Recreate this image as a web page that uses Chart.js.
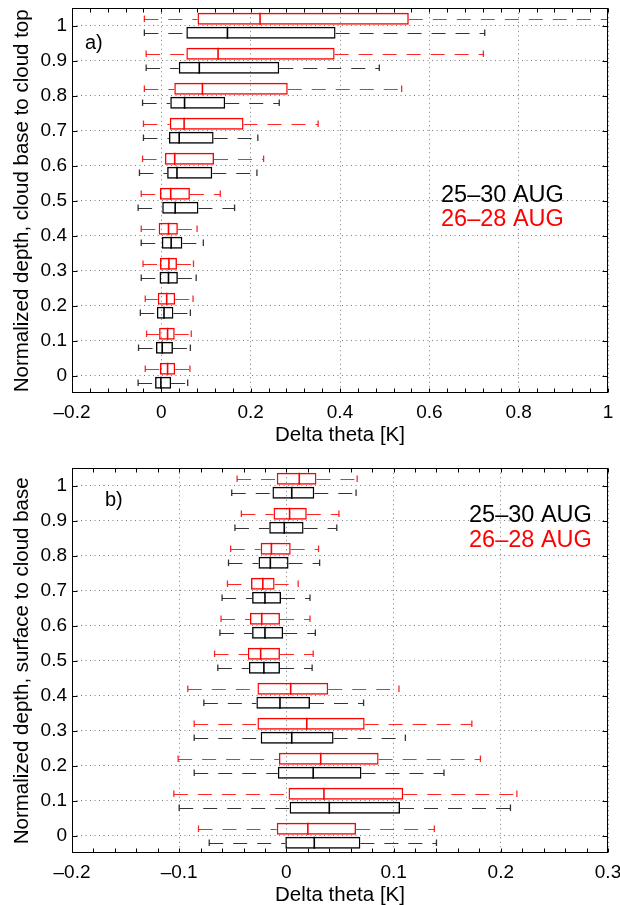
<!DOCTYPE html>
<html><head><meta charset="utf-8">
<script src="https://cdn.jsdelivr.net/npm/chart.js@4.4.1/dist/chart.umd.min.js"></script>
<style>
html,body{margin:0;padding:0;background:#fff;overflow:hidden;width:620px;height:905px}
#wrap{position:relative;width:620px;height:905px;overflow:hidden;background:#fff}
canvas{position:absolute;left:0}
</style></head><body>
<div id="wrap">
<canvas id="ca" width="640" height="455" style="top:0"></canvas>
<canvas id="cb" width="640" height="455" style="top:455px"></canvas>
</div>
<script>
// ---------- data ----------
const levels = [0, 0.1, 0.2, 0.3, 0.4, 0.5, 0.6, 0.7, 0.8, 0.9, 1];
const yTicks = [0, 0.1, 0.2, 0.3, 0.4, 0.5, 0.6, 0.7, 0.8, 0.9, 1];
const xTicksA = [-0.2, 0, 0.2, 0.4, 0.6, 0.8, 1];
const xTicksB = [-0.2, -0.1, 0, 0.1, 0.2, 0.3];
const seriesLabels = ['25\u201330 AUG', '26\u201328 AUG'];

// Panel a) cloud base to cloud top -- 25-30 AUG (black)
const aBlackLo  = [-0.052, -0.051, -0.047, -0.045, -0.045, -0.052, -0.049, -0.040, -0.042, -0.034, -0.038];
const aBlackQ1  = [-0.014, -0.012, -0.010, -0.004,  0.000,  0.002,  0.013,  0.017,  0.020,  0.039,  0.056];
const aBlackMed = [-0.001,  0.002,  0.006,  0.016,  0.022,  0.031,  0.035,  0.040,  0.052,  0.085,  0.148];
const aBlackQ3  = [ 0.022,  0.026,  0.027,  0.037,  0.047,  0.083,  0.114,  0.117,  0.143,  0.264,  0.390];
const aBlackHi  = [ 0.059,  0.065,  0.065,  0.078,  0.094,  0.164,  0.214,  0.216,  0.264,  0.488,  0.724];
// Panel a) -- 26-28 AUG (red)
const aRedLo  = [-0.036, -0.033, -0.036, -0.041, -0.045, -0.045, -0.042, -0.040, -0.038, -0.034, -0.038];
const aRedQ1  = [-0.003, -0.005, -0.008, -0.003, -0.006, -0.003,  0.008,  0.019,  0.029,  0.056,  0.081];
const aRedMed = [ 0.014,  0.014,  0.012,  0.017,  0.016,  0.021,  0.030,  0.051,  0.092,  0.127,  0.221];
const aRedQ3  = [ 0.031,  0.030,  0.031,  0.035,  0.037,  0.064,  0.118,  0.184,  0.283,  0.388,  0.554];
const aRedHi  = [ 0.064,  0.067,  0.071,  0.072,  0.080,  0.132,  0.229,  0.351,  0.538,  0.721,  1.020];

// Panel b) surface to cloud base -- 25-30 AUG (black)
const bBlackLo  = [-0.072, -0.100, -0.086, -0.086, -0.077, -0.064, -0.062, -0.060, -0.054, -0.048, -0.051];
const bBlackQ1  = [-0.001,  0.003, -0.008, -0.024, -0.028, -0.035, -0.032, -0.032, -0.026, -0.016, -0.013];
const bBlackMed = [ 0.026,  0.040,  0.025,  0.005, -0.006, -0.021, -0.020, -0.020, -0.015, -0.002,  0.005];
const bBlackQ3  = [ 0.069,  0.106,  0.070,  0.044,  0.022, -0.006, -0.003, -0.005,  0.002,  0.016,  0.026];
const bBlackHi  = [ 0.140,  0.209,  0.147,  0.111,  0.072,  0.024,  0.027,  0.022,  0.031,  0.047,  0.065];
// Panel b) -- 26-28 AUG (red)
const bRedLo  = [-0.082, -0.105, -0.101, -0.086, -0.092, -0.067, -0.061, -0.055, -0.052, -0.042, -0.046];
const bRedQ1  = [-0.009,  0.002, -0.007, -0.027, -0.027, -0.036, -0.034, -0.033, -0.024, -0.012, -0.009];
const bRedMed = [ 0.020,  0.035,  0.032,  0.019,  0.004, -0.024, -0.023, -0.022, -0.014,  0.003,  0.012];
const bRedQ3  = [ 0.065,  0.109,  0.086,  0.073,  0.039, -0.006, -0.006, -0.011,  0.004,  0.019,  0.028];
const bRedHi  = [ 0.138,  0.215,  0.181,  0.173,  0.105,  0.025,  0.022,  0.011,  0.030,  0.049,  0.066];

// ---------- styling ----------
const FONT = "'Liberation Sans', Arial, Helvetica, sans-serif";
const RED = '#ff0000', BLACK = '#000000';

function fmt(v) {
  return v < 0 ? '\u2013' + String(-v) : String(v);
}

function boxDataset(label, lo, q1, med, q3, hi, color, whiskerColor) {
  return {
    label,
    data: levels.map((l, i) => ({ y: l, x: [q1[i], q3[i]] })),
    lo, med, hi,
    whiskerColor,
    borderColor: color,
    backgroundColor: 'rgba(0,0,0,0)',
    borderWidth: 1.4,
    borderSkipped: false,
    categoryPercentage: 0.8,
    barPercentage: 0.85
  };
}

const boxPlugin = {
  id: 'boxDecor',
  afterDatasetsDraw(chart, args, o) {
    const { ctx, chartArea: ca, scales: { x, y } } = chart;
    ctx.save();
    ctx.beginPath();
    ctx.rect(ca.left, ca.top, ca.right - ca.left, ca.bottom - ca.top);
    ctx.clip();
    const seg = (x1, y1, x2, y2) => { ctx.beginPath(); ctx.moveTo(x1, y1); ctx.lineTo(x2, y2); ctx.stroke(); };
    chart.data.datasets.forEach((ds, di) => {
      const meta = chart.getDatasetMeta(di);
      meta.data.forEach((el, i) => {
        const yc = el.y, h = el.height;
        const yy = Math.round(yc) + 0.5;
        const pLo = x.getPixelForValue(ds.lo[i]);
        const pQ1 = x.getPixelForValue(ds.data[i].x[0]);
        const pQ3 = x.getPixelForValue(ds.data[i].x[1]);
        const pMed = x.getPixelForValue(ds.med[i]);
        const pHi = x.getPixelForValue(ds.hi[i]);
        ctx.lineWidth = 1.1;
        ctx.strokeStyle = ds.whiskerColor;
        ctx.setLineDash([14, 10]);
        seg(pLo, yy, pQ1, yy);
        seg(pQ3, yy, pHi, yy);
        ctx.setLineDash([]);
        ctx.lineWidth = 1.3;
        seg(pLo, yc - h * 0.27, pLo, yc + h * 0.27);
        seg(pHi, yc - h * 0.27, pHi, yc + h * 0.27);
        ctx.strokeStyle = ds.borderColor;
        ctx.lineWidth = 1.6;
        seg(pMed, yc - h / 2, pMed, yc + h / 2);
      });
    });
    ctx.restore();

    // frame
    ctx.save();
    ctx.strokeStyle = '#000';
    ctx.lineWidth = 1;
    const L = Math.round(ca.left) + 0.5, R = Math.round(ca.right) - 0.5;
    const T = Math.round(ca.top) + 0.5, B = Math.round(ca.bottom) - 0.5;
    ctx.strokeRect(L, T, R - L, B - T);
    // inward ticks
    const tl = 5, tm = 4;
    ctx.beginPath();
    for (let v = x.min; v <= x.max + 1e-9; v += o.xMinorStep) {
      const px = Math.round(x.getPixelForValue(v)) + 0.5;
      ctx.moveTo(px, B); ctx.lineTo(px, B - tm);
      ctx.moveTo(px, T); ctx.lineTo(px, T + tm);
    }
    y.ticks.forEach(t => {
      const py = Math.round(y.getPixelForValue(t.value)) + 0.5;
      ctx.moveTo(L, py); ctx.lineTo(L + tl, py);
      ctx.moveTo(R, py); ctx.lineTo(R - tl, py);
    });
    ctx.stroke();

    // panel label
    ctx.fillStyle = '#000';
    ctx.font = '20px ' + FONT;
    ctx.textAlign = 'left';
    ctx.textBaseline = 'alphabetic';
    ctx.fillText(o.panel.text, o.panel.x, o.panel.y);

    // legend text (order: black series then red series)
    ctx.font = '23.5px ' + FONT;
    const order = [1, 0];
    order.forEach((di, k) => {
      const ds = chart.data.datasets[di];
      ctx.fillStyle = ds.borderColor;
      ctx.fillText(ds.label, o.legend.x, o.legend.y + k * o.legend.dy);
    });
    ctx.restore();
  }
};

function makePanel(canvas, cfg) {
  const tickFont = { family: FONT, size: 19 };
  const titleFont = { family: FONT, size: 20.5 };
  return new Chart(canvas, {
    type: 'bar',
    data: {
      datasets: [
        boxDataset(seriesLabels[1], cfg.red[0], cfg.red[1], cfg.red[2], cfg.red[3], cfg.red[4], RED, 'rgba(255,0,0,0.85)'),
        boxDataset(seriesLabels[0], cfg.black[0], cfg.black[1], cfg.black[2], cfg.black[3], cfg.black[4], BLACK, 'rgba(30,30,30,0.9)')
      ]
    },
    options: {
      indexAxis: 'y',
      responsive: false,
      animation: false,
      events: [],
      layout: { padding: cfg.padding },
      plugins: {
        legend: { display: false },
        tooltip: { enabled: false },
        boxDecor: { xMinorStep: cfg.xMinorStep, panel: cfg.panel, legend: cfg.legend }
      },
      scales: {
        x: {
          type: 'linear',
          offset: false,
          min: cfg.xTicks[0],
          max: cfg.xTicks[cfg.xTicks.length - 1],
          afterBuildTicks: s => { s.ticks = cfg.xTicks.map(v => ({ value: v })); },
          afterFit: s => { s.height = 54; s.paddingLeft = 0; s.paddingRight = 0; },
          ticks: { font: tickFont, color: '#000', padding: 8, maxRotation: 0, autoSkip: false, callback: v => fmt(v) },
          grid: { color: '#7a7a7a', lineWidth: 1, drawTicks: false, offset: false },
          border: { display: false, dash: [1, 3.5] },
          title: { display: true, text: 'Delta theta [K]', font: titleFont, color: '#000', padding: { top: 0, bottom: 0 } }
        },
        y: {
          type: 'linear',
          offset: false,
          min: -0.05,
          max: 1.05,
          afterBuildTicks: s => { s.ticks = yTicks.map(v => ({ value: v })); },
          afterFit: s => { s.width = 72; s.paddingTop = 0; s.paddingBottom = 0; },
          ticks: { font: tickFont, color: '#000', padding: 5, autoSkip: false, callback: v => fmt(v) },
          grid: { color: '#7a7a7a', lineWidth: 1, drawTicks: false, offset: false },
          border: { display: false, dash: [1, 3.5] },
          title: { display: true, text: cfg.yTitle, font: titleFont, color: '#000', padding: { top: 10, bottom: 0 } }
        }
      }
    },
    plugins: [boxPlugin]
  });
}

makePanel(document.getElementById('ca'), {
  xTicks: xTicksA,
  xMinorStep: 0.04,
  yTitle: 'Normalized depth, cloud base to cloud top',
  black: [aBlackLo, aBlackQ1, aBlackMed, aBlackQ3, aBlackHi],
  red: [aRedLo, aRedQ1, aRedMed, aRedQ3, aRedHi],
  padding: { left: 0, top: 8.3, right: 32, bottom: 7.7 },
  panel: { text: 'a)', x: 85, y: 49 },
  legend: { x: 441, y: 201.5, dy: 24 }
});

makePanel(document.getElementById('cb'), {
  xTicks: xTicksB,
  xMinorStep: 0.02,
  yTitle: 'Normalized depth, surface to cloud base',
  black: [bBlackLo, bBlackQ1, bBlackMed, bBlackQ3, bBlackHi],
  red: [bRedLo, bRedQ1, bRedMed, bRedQ3, bRedHi],
  padding: { left: 0, top: 13.3, right: 32, bottom: 2.7 },
  panel: { text: 'b)', x: 105, y: 51 },
  legend: { x: 469, y: 66.7, dy: 25 }
});
</script>
</body></html>
